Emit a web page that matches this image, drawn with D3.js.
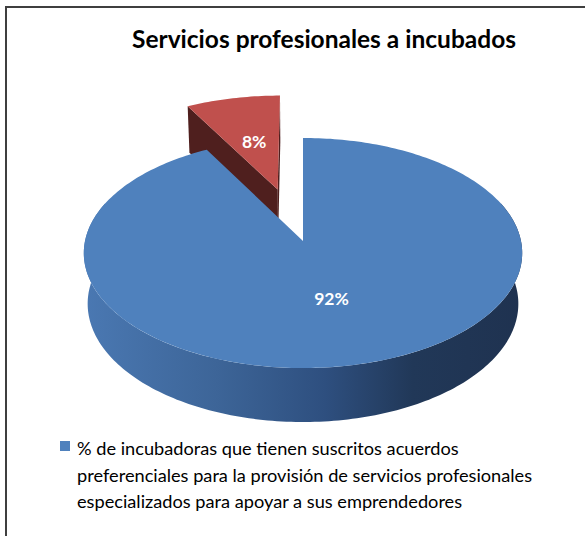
<!DOCTYPE html>
<html>
<head>
<meta charset="utf-8">
<script src="https://cdn.jsdelivr.net/npm/d3@7"></script>
<style>
  body { margin: 0; background: #fff; }
</style>
</head>
<body>
<div id="chart"></div>
<script>
// chart data
const title = "Servicios profesionales a incubados"
const categories = ["% de incubadoras que tienen suscritos acuerdos preferenciales para la provisión de servicios profesionales especializados para apoyar a sus emprendedores", ""]
const values = [92, 8]
const valueLabels = ["92%", "8%"]
const legendLines = [
  "% de incubadoras que tienen suscritos acuerdos",
  "preferenciales para la provisión de servicios profesionales",
  "especializados para apoyar a sus emprendedores"
]

let width = 585,
    height = 536

// 3d view settings (excel-like perspective pie)
let cx = 303, cy = 241, R = 218,
    elev = Math.asin(0.522),
    dist = 8.17,
    depth = 0.277,
    explode = [0, 0.49]

let topColor = ["#4f81bd", "#c0504d"]
let sideColor = ["url(#blueSide)", "#4f1f1e"]

let svg = d3.select("#chart").append("svg")
  .attr("width", width)
  .attr("height", height)
  .style("font-family", "Lato, 'Open Sans', sans-serif")

let defs = svg.append("defs")
let grad = defs.append("linearGradient")
  .attr("id", "blueSide")
  .attr("gradientUnits", "userSpaceOnUse")
  .attr("x1", 85).attr("x2", 522).attr("y1", 0).attr("y2", 0)
grad.selectAll("stop")
  .data([[0, "#4a78b2"], [0.3, "#3d6598"], [0.55, "#2e4f7f"], [0.75, "#213858"], [1, "#1f3250"]])
  .enter().append("stop")
  .attr("offset", d => d[0])
  .attr("stop-color", d => d[1])

// frame
svg.append("rect")
  .attr("x", 6).attr("y", 7)
  .attr("width", 600).attr("height", 560)
  .attr("fill", "#fff")
  .attr("stroke", "#3f3f3f")
  .attr("stroke-width", 2)

svg.append("text")
  .attr("x", 324)
  .attr("y", 48)
  .attr("text-anchor", "middle")
  .style("font-size", "24.5px")
  .style("font-weight", "bold")
  .text(title)

// perspective projection of a point on the pie (unit radius)
function project(X, Y, Z) {
  let yc = Y * Math.sin(elev) + Z * Math.cos(elev)
  let d = Y * Math.cos(elev) - Z * Math.sin(elev)
  let s = dist / (dist + d)
  return [cx + X * R * s, cy - yc * R * s]
}

function rim(a0, a1, z, off) {
  let n = Math.max(2, Math.ceil(Math.abs(a1 - a0) / 0.02))
  let pts = []
  for (let i = 0; i <= n; i++) {
    let a = a0 + (a1 - a0) * i / n
    pts.push(project(off[0] + Math.sin(a), off[1] + Math.cos(a), z))
  }
  return pts
}

let line = d3.line().curve(d3.curveLinearClosed)

let arcs = d3.pie().sort(null).value(d => d)(values)

// draw back slice first, then the front one
let order = [1, 0]
let pie = svg.append("g")

order.forEach(i => {
  let a = arcs[i]
  let mid = (a.startAngle + a.endAngle) / 2
  let off = [explode[i] * Math.sin(mid), explode[i] * Math.cos(mid)]
  let g = pie.append("g").attr("class", "slice")
  let c0 = project(off[0], off[1], 0),
      c1 = project(off[0], off[1], -depth)

  if (i === 0) {
    // outer wall, front part only
    let w0 = Math.max(a.startAngle, Math.PI / 2 - 0.35),
        w1 = Math.min(a.endAngle, 3 * Math.PI / 2 + 0.35)
    let pts = rim(w0, w1, 0, off).concat(rim(w1, w0, -depth, off))
    g.append("path").attr("d", line(pts)).attr("fill", sideColor[i])
  } else {
    // cut faces of the exploded slice
    [a.endAngle, a.startAngle].forEach(ang => {
      let p0 = project(off[0] + Math.sin(ang), off[1] + Math.cos(ang), 0),
          p1 = project(off[0] + Math.sin(ang), off[1] + Math.cos(ang), -depth)
      g.append("path").attr("d", line([c0, p0, p1, c1])).attr("fill", sideColor[i])
    })
  }

  let top = [c0].concat(rim(a.startAngle, a.endAngle, 0, off))
  g.append("path").attr("d", line(top)).attr("fill", topColor[i])
})

// data labels
order.forEach(i => {
  let a = arcs[i]
  let mid = (a.startAngle + a.endAngle) / 2
  let r = explode[i] + 0.5
  let p = project(r * Math.sin(mid), r * Math.cos(mid), 0)
  svg.append("text")
    .attr("x", p[0])
    .attr("y", p[1] + 6)
    .attr("text-anchor", "middle")
    .attr("fill", "#fff")
    .style("font-size", "17.5px")
    .style("font-weight", "bold")
    .text(valueLabels[i])
})

// legend (only the first category has a name)
let legend = svg.append("g").attr("transform", "translate(60,441)")
legend.append("rect")
  .attr("width", 10).attr("height", 10)
  .attr("fill", topColor[0])
legend.selectAll("text")
  .data(legendLines)
  .enter().append("text")
  .attr("x", 17)
  .attr("y", (d, k) => 14 + k * 26.5)
  .style("font-size", "18.2px")
  .attr("fill", "#000")
  .text(d => d)
</script>
</body>
</html>
